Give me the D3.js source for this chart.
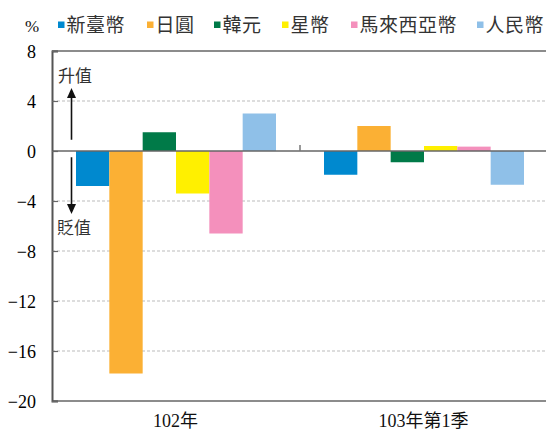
<!DOCTYPE html>
<html><head><meta charset="utf-8">
<script src="https://cdn.jsdelivr.net/npm/d3@7/dist/d3.min.js"></script>
<style>
body{margin:0;background:#fff;}
svg{display:block;}
</style></head><body>
<svg id="c" width="546" height="432"></svg>
<script>
const categories = ["102年", "103年第1季"];
const series = ["新臺幣", "日圓", "韓元", "星幣", "馬來西亞幣", "人民幣"];
const colors = ["#0089cf", "#fbb034", "#007a48", "#fff000", "#f490bc", "#8fc0e8"];
const values102 = [-2.8, -17.8, 1.5, -3.4, -6.6, 3.0];
const values103 = [-1.9, 2.0, -0.9, 0.4, 0.35, -2.7];
const yTicks = [8, 4, 0, -4, -8, -12, -16, -20];

const SERIF = "'Liberation Serif', 'DejaVu Serif', 'Noto Sans CJK TC', serif";
const CJK = "'Noto Sans CJK TC', 'Noto Sans CJK SC', sans-serif";

const data = [values102, values103];
const svg = d3.select("#c");
const plotL = 52, plotR = 548, plotT = 51, plotB = 401;

const y = d3.scaleLinear().domain([-20, 8]).range([plotB, plotT]);
const x0 = d3.scaleBand().domain(categories).range([plotL, plotR]).padding(0);
const x1 = d3.scaleBand().domain(series).range([24, x0.bandwidth() - 24]).padding(0);

// dashed gridlines
svg.append("g").selectAll("line").data(yTicks.filter(t => t !== 8 && t !== 0 && t !== -20))
  .join("line")
  .attr("x1", plotL).attr("x2", 546)
  .attr("y1", d => y(d)).attr("y2", d => y(d))
  .attr("stroke", "#bbb").attr("stroke-width", 1.2).attr("stroke-dasharray", "3,2");

// top and bottom solid lines
[8, -20].forEach(t => {
  svg.append("line").attr("x1", plotL).attr("x2", 546)
    .attr("y1", y(t)).attr("y2", y(t))
    .attr("stroke", "#8c8c8c").attr("stroke-width", 1.8);
});

// bars
const g = svg.append("g");
categories.forEach((c, ci) => {
  g.selectAll(null).data(data[ci]).join("rect")
    .attr("x", (d, i) => x0(c) + x1(series[i]))
    .attr("width", x1.bandwidth())
    .attr("y", d => y(Math.max(0, d)))
    .attr("height", d => Math.abs(y(d) - y(0)))
    .attr("fill", (d, i) => colors[i]);
});

// zero line
svg.append("line").attr("x1", plotL).attr("x2", 546)
  .attr("y1", y(0)).attr("y2", y(0))
  .attr("stroke", "#666").attr("stroke-opacity", 0.75).attr("stroke-width", 2);

// middle category tick
svg.append("line").attr("x1", x0(categories[1])).attr("x2", x0(categories[1]))
  .attr("y1", y(0) - 6).attr("y2", y(0))
  .attr("stroke", "#777").attr("stroke-width", 1.5);

// left axis
const yAxis = d3.axisLeft(y).tickValues(yTicks).tickSize(-6).tickPadding(16).tickFormat(d3.format("d"));
const ya = svg.append("g").attr("transform", `translate(${plotL},0)`).call(yAxis);
ya.select(".domain").attr("stroke", "#555").attr("stroke-width", 2);
ya.selectAll(".tick line").attr("stroke", "#666").attr("stroke-width", 1.2);
ya.selectAll(".tick text").style("font-family", SERIF).style("font-size", "18px").attr("fill", "#000")
  .attr("dy", "0.35em");

// x labels
const xa = svg.append("g");
xa.selectAll("text").data(categories).join("text")
  .style("font-family", SERIF).style("font-size", "18px")
  .attr("x", d => x0(d) + x0.bandwidth() / 2 - 0.5)
  .attr("y", 427)
  .attr("text-anchor", "middle").attr("fill", "#111")
  .text(d => d);

// % label
svg.append("text").style("font-family", SERIF).style("font-size", "17px")
  .attr("x", 25).attr("y", 32).attr("fill", "#111").text("%");

// legend
const legendX = [58, 147, 214, 282, 351, 477];
const lg = svg.append("g");
series.forEach((s, i) => {
  lg.append("rect").attr("x", legendX[i]).attr("y", 21.5).attr("width", 6.5).attr("height", 6.5).attr("fill", colors[i]);
  lg.append("text").style("font-family", CJK).style("font-size", "19px")
    .attr("x", legendX[i] + 8.5).attr("y", 31.5)
    .attr("fill", "#333")
    .attr("letter-spacing", 0.5)
    .text(s);
});

// arrows
const ax = 71.5;
const arr = svg.append("g").attr("stroke", "#111").attr("fill", "#111");
arr.append("line").attr("x1", ax).attr("x2", ax).attr("y1", y(0.9)).attr("y2", 97).attr("stroke-width", 1.6);
arr.append("path").attr("d", `M${ax},88 L${ax - 4.5},98 L${ax + 4.5},98 Z`).attr("stroke", "none");
arr.append("line").attr("x1", ax).attr("x2", ax).attr("y1", y(-0.5)).attr("y2", 205).attr("stroke-width", 1.6);
arr.append("path").attr("d", `M${ax},214 L${ax - 4.5},204 L${ax + 4.5},204 Z`).attr("stroke", "none");

svg.append("text").style("font-family", CJK).style("font-size", "17px")
  .attr("x", 58).attr("y", 82).attr("fill", "#333").text("升值");
svg.append("text").style("font-family", CJK).style("font-size", "17px")
  .attr("x", 57).attr("y", 234).attr("fill", "#333").text("貶值");
</script>
</body></html>
